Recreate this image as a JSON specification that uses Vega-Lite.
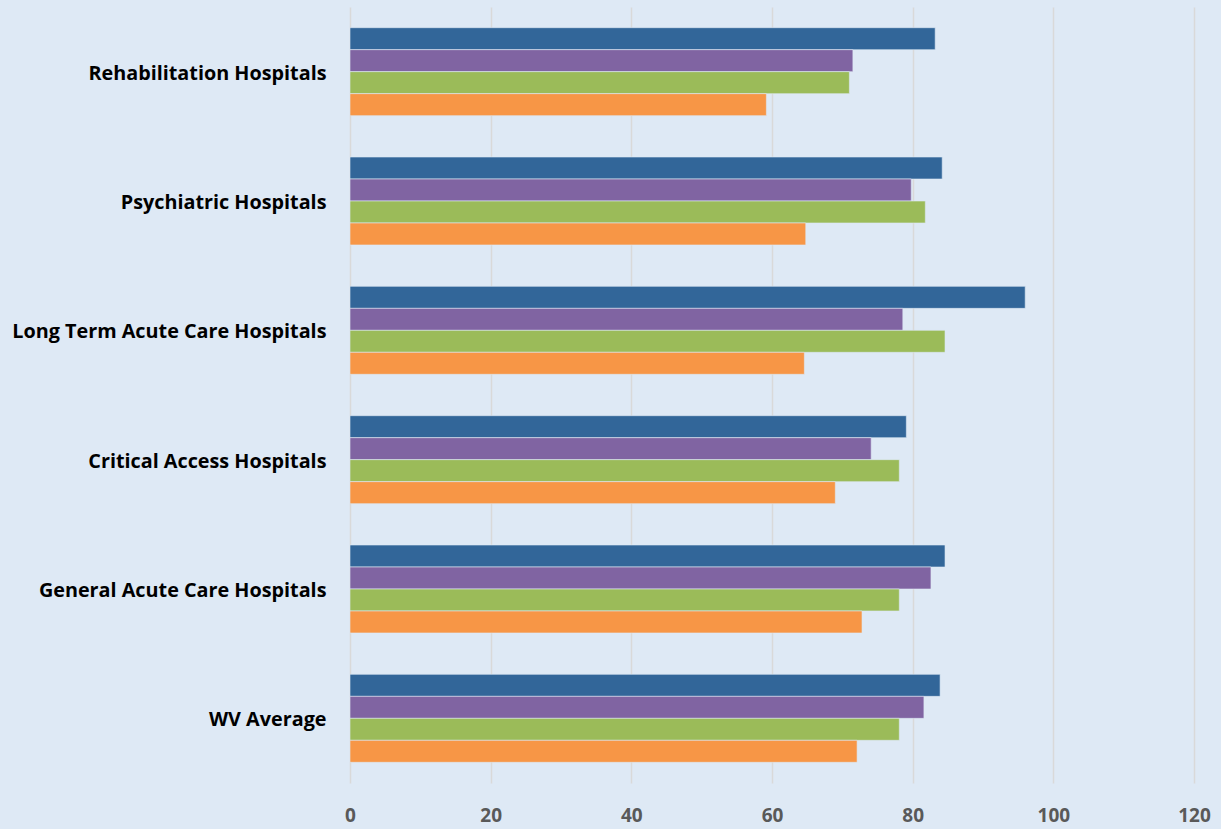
{
  "$schema": "https://vega.github.io/schema/vega-lite/v6.json",
  "width": 844,
  "height": 776,
  "autosize": "none",
  "padding": {"left": 350, "top": 7, "right": 27, "bottom": 46},
  "background": "#dee9f5",
  "data": {
    "values": [
      {"category": "Rehabilitation Hospitals", "series": "Series 1", "value": 83.2},
      {"category": "Rehabilitation Hospitals", "series": "Series 2", "value": 71.5},
      {"category": "Rehabilitation Hospitals", "series": "Series 3", "value": 71.0},
      {"category": "Rehabilitation Hospitals", "series": "Series 4", "value": 59.2},
      {"category": "Psychiatric Hospitals", "series": "Series 1", "value": 84.2},
      {"category": "Psychiatric Hospitals", "series": "Series 2", "value": 79.8},
      {"category": "Psychiatric Hospitals", "series": "Series 3", "value": 81.8},
      {"category": "Psychiatric Hospitals", "series": "Series 4", "value": 64.8},
      {"category": "Long Term Acute Care Hospitals", "series": "Series 1", "value": 96.0},
      {"category": "Long Term Acute Care Hospitals", "series": "Series 2", "value": 78.6},
      {"category": "Long Term Acute Care Hospitals", "series": "Series 3", "value": 84.6},
      {"category": "Long Term Acute Care Hospitals", "series": "Series 4", "value": 64.6},
      {"category": "Critical Access Hospitals", "series": "Series 1", "value": 79.1},
      {"category": "Critical Access Hospitals", "series": "Series 2", "value": 74.1},
      {"category": "Critical Access Hospitals", "series": "Series 3", "value": 78.1},
      {"category": "Critical Access Hospitals", "series": "Series 4", "value": 69.0},
      {"category": "General Acute Care Hospitals", "series": "Series 1", "value": 84.6},
      {"category": "General Acute Care Hospitals", "series": "Series 2", "value": 82.6},
      {"category": "General Acute Care Hospitals", "series": "Series 3", "value": 78.1},
      {"category": "General Acute Care Hospitals", "series": "Series 4", "value": 72.8},
      {"category": "WV Average", "series": "Series 1", "value": 83.9},
      {"category": "WV Average", "series": "Series 2", "value": 81.6},
      {"category": "WV Average", "series": "Series 3", "value": 78.1},
      {"category": "WV Average", "series": "Series 4", "value": 72.1}
    ]
  },
  "mark": {"type": "bar", "stroke": "#dee9f5", "strokeWidth": 0.6},
  "encoding": {
    "y": {
      "field": "category",
      "type": "nominal",
      "sort": null,
      "scale": {"paddingInner": 0.32, "paddingOuter": 0.16},
      "axis": {
        "title": null,
        "ticks": false,
        "domain": false,
        "labelFont": "Open Sans",
        "labelFontWeight": "bold",
        "labelFontSize": 19.8,
        "labelColor": "#000000",
        "labelPadding": 24,
        "labelOffset": 2,
        "labelLimit": 400
      }
    },
    "yOffset": {
      "field": "series",
      "type": "nominal",
      "sort": ["Series 1", "Series 2", "Series 3", "Series 4"],
      "scale": {"paddingInner": 0, "paddingOuter": 0}
    },
    "x": {
      "field": "value",
      "type": "quantitative",
      "scale": {"domain": [0, 120], "nice": false, "zero": true},
      "axis": {
        "title": null,
        "values": [0, 20, 40, 60, 80, 100, 120],
        "ticks": false,
        "domain": false,
        "grid": true,
        "gridColor": "#d9d9d9",
        "gridWidth": 1.5,
        "labelFlush": false,
        "labelFont": "Open Sans",
        "labelFontWeight": "bold",
        "labelFontSize": 19,
        "labelColor": "#595959",
        "labelPadding": 23
      }
    },
    "color": {
      "field": "series",
      "type": "nominal",
      "scale": {
        "domain": ["Series 1", "Series 2", "Series 3", "Series 4"],
        "range": ["#326699", "#8064a2", "#9bbb59", "#f79646"]
      },
      "legend": null
    }
  },
  "config": {"view": {"stroke": null}}
}
